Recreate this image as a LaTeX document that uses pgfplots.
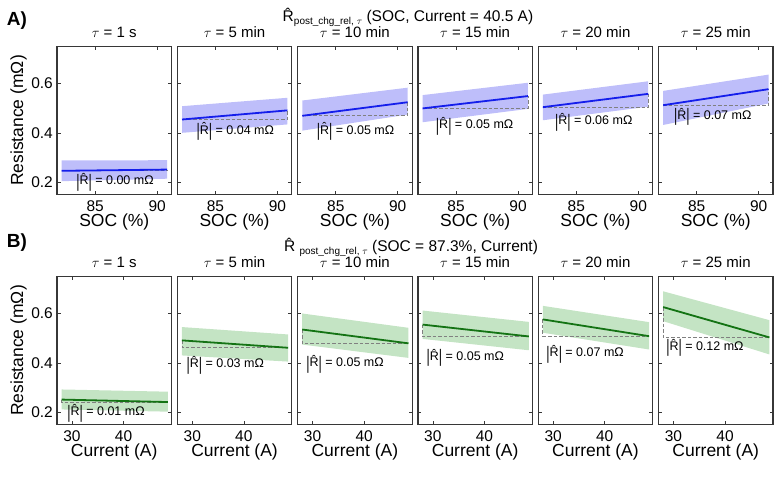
\documentclass[border=0pt]{standalone}
\usepackage{fontspec}
\setmainfont{Liberation Sans}
\usepackage{pgfplots}
\pgfplotsset{compat=1.18}
\definecolor{bandA}{RGB}{190,190,250}
\definecolor{lineA}{RGB}{20,30,235}
\definecolor{bandB}{RGB}{196,228,196}
\definecolor{lineB}{RGB}{20,115,20}
\definecolor{frame}{RGB}{55,55,55}
\newcommand{\vb}{\raisebox{-0.2em}{\scalebox{1}[1.45]{|}}}
\newcommand{\Rhat}{\^{R}}
\newcommand{\tickfont}{\fontsize{15.5}{17}\selectfont}
\pgfplotsset{
 panel/.style={scale only axis, width=114.5pt, height=148pt, anchor=south west,
  ymin=0.15, ymax=0.75, ytick={0.2,0.4,0.6}, yticklabels={}, clip=false,
  tick align=inside, xtick pos=both, ytick pos=both,
  major tick length=3.5pt,
  axis line style={frame, line width=1.2pt},
  tick style={frame, line width=0.6pt},
  label style={font=\fontsize{17.5}{19}\selectfont},
  xlabel style={at={(axis description cs:0.5,0)}, anchor=base, yshift=-32pt},
  ylabel style={at={(axis description cs:-0.335,0.5)}, anchor=center},
 },
 rowA/.style={xmin=81.92, xmax=91.16, xtick={85,90}, xticklabels={}, xlabel={SOC (\%)},
  extra description/.append code={
   \node[anchor=base, yshift=-17pt, font=\tickfont] at (0.3333,0) {85};
   \node[anchor=base, yshift=-17pt, font=\tickfont] at (0.8745,0) {90};}},
 rowB/.style={xmin=27.1, xmax=49.3, xtick={30,40}, xticklabels={}, xlabel={Current (A)},
  extra description/.append code={
   \node[anchor=base, yshift=-17pt, font=\tickfont] at (0.1306,0) {30};
   \node[anchor=base, yshift=-17pt, font=\tickfont] at (0.5811,0) {40};}},
 first/.style={ylabel={Resistance (mΩ)},
  extra description/.append code={
   \node[anchor=east, inner sep=0pt, xshift=-4pt, font=\tickfont] at (0,0.0833) {0.2};
   \node[anchor=east, inner sep=0pt, xshift=-4pt, font=\tickfont] at (0,0.4167) {0.4};
   \node[anchor=east, inner sep=0pt, xshift=-4pt, font=\tickfont] at (0,0.75) {0.6};}},
 other/.style={},
}
\newcommand{\panel}[9]{%
\begin{axis}[panel, at={(#1pt,#2pt)}, #3]
\addplot[band] coordinates {#5} -- cycle;
\addplot[black!50, line width=0.8pt, dash pattern=on 3.5pt off 2pt] coordinates {#7};
\addplot[mline] coordinates {#6};
\node[font=\fontsize{12.5}{14}\selectfont] at (axis cs:#8) {\vb\Rhat\vb{} = #9 mΩ};
\node[anchor=base, yshift=8.5pt, font=\fontsize{15}{17}\selectfont] at (rel axis cs:0.5,1) {#4};
\end{axis}}
\begin{document}
\begin{tikzpicture}
\path[use as bounding box] (0,0) rectangle (780pt,486pt);
% Row A
\tikzset{band/.style={fill=bandA, draw=none}, mline/.style={lineA, line width=1.8pt}}
\panel{57}{291.5}{rowA,first}{$\tau$ = 1 s}
 {(82.3,0.204) (90.8,0.214) (90.8,0.289) (82.3,0.288)}
 {(82.3,0.246) (90.8,0.251)}
 {(82.3,0.246) (90.8,0.246) (90.8,0.251)}
 {86.6,0.199}{0.00}
\panel{177.3}{291.5}{rowA,other}{$\tau$ = 5 min}
 {(82.3,0.400) (90.8,0.434) (90.8,0.542) (82.3,0.508)}
 {(82.3,0.454) (90.8,0.491)}
 {(82.3,0.454) (90.8,0.454) (90.8,0.491)}
 {86.6,0.405}{0.04}
\panel{297.6}{291.5}{rowA,other}{$\tau$ = 10 min}
 {(82.3,0.409) (90.8,0.474) (90.8,0.583) (82.3,0.531)}
 {(82.3,0.469) (90.8,0.524)}
 {(82.3,0.469) (90.8,0.469) (90.8,0.524)}
 {86.6,0.405}{0.05}
\panel{417.9}{291.5}{rowA,other}{$\tau$ = 15 min}
 {(82.3,0.443) (90.8,0.497) (90.8,0.603) (82.3,0.553)}
 {(82.3,0.499) (90.8,0.549)}
 {(82.3,0.499) (90.8,0.499) (90.8,0.549)}
 {86.5,0.426}{0.05}
\panel{538.2}{291.5}{rowA,other}{$\tau$ = 20 min}
 {(82.3,0.451) (90.8,0.506) (90.8,0.609) (82.3,0.555)}
 {(82.3,0.504) (90.8,0.558)}
 {(82.3,0.504) (90.8,0.504) (90.8,0.558)}
 {86.4,0.443}{0.06}
\panel{658.5}{291.5}{rowA,other}{$\tau$ = 25 min}
 {(82.3,0.432) (90.8,0.519) (90.8,0.636) (82.3,0.570)}
 {(82.3,0.512) (90.8,0.577)}
 {(82.3,0.512) (90.8,0.512) (90.8,0.577)}
 {86.3,0.464}{0.07}
% Row B
\tikzset{band/.style={fill=bandB, draw=none}, mline/.style={lineB, line width=1.8pt}}
\panel{57}{61.5}{rowB,first}{$\tau$ = 1 s}
 {(28,0.211) (48.6,0.202) (48.6,0.283) (28,0.292)}
 {(28,0.251) (48.6,0.241)}
 {(28,0.251) (28,0.241) (48.6,0.241)}
 {36.6,0.195}{0.01}
\panel{177.3}{61.5}{rowB,other}{$\tau$ = 5 min}
 {(28,0.430) (48.6,0.405) (48.6,0.515) (28,0.545)}
 {(28,0.491) (48.6,0.461)}
 {(28,0.491) (28,0.461) (48.6,0.461)}
 {36.4,0.390}{0.03}
\panel{297.6}{61.5}{rowB,other}{$\tau$ = 10 min}
 {(28,0.474) (48.6,0.420) (48.6,0.542) (28,0.600)}
 {(28,0.535) (48.6,0.479)}
 {(28,0.535) (28,0.479) (48.6,0.479)}
 {36.3,0.393}{0.05}
\panel{417.9}{61.5}{rowB,other}{$\tau$ = 15 min}
 {(28,0.497) (48.6,0.451) (48.6,0.566) (28,0.612)}
 {(28,0.555) (48.6,0.507)}
 {(28,0.555) (28,0.507) (48.6,0.507)}
 {36.3,0.420}{0.05}
\panel{538.2}{61.5}{rowB,other}{$\tau$ = 20 min}
 {(28,0.522) (48.6,0.454) (48.6,0.565) (28,0.631)}
 {(28,0.576) (48.6,0.508)}
 {(28,0.576) (28,0.508) (48.6,0.508)}
 {36.2,0.434}{0.07}
\panel{658.5}{61.5}{rowB,other}{$\tau$ = 25 min}
 {(28,0.569) (48.6,0.434) (48.6,0.573) (28,0.690)}
 {(28,0.626) (48.6,0.503)}
 {(28,0.626) (28,0.503) (48.6,0.503)}
 {36.1,0.461}{0.12}
% Titles
\node[anchor=base, font=\fontsize{15.5}{17}\selectfont] at (408pt,464pt)
 {\Rhat\raisebox{-3pt}{\fontsize{10}{11}\selectfont post\_chg\_rel, $\tau$} (SOC, Current = 40.5 A)};
\node[anchor=base, font=\fontsize{15.5}{17}\selectfont] at (411pt,234pt)
 {\Rhat\ \raisebox{-3pt}{\fontsize{10}{11}\selectfont post\_chg\_rel, $\tau$} (SOC = 87.3\%, Current)};
\node[font=\bfseries\fontsize{19}{21}\selectfont] at (17pt,465.5pt) {A)};
\node[font=\bfseries\fontsize{19}{21}\selectfont] at (17pt,243pt) {B)};
\end{tikzpicture}
\end{document}
